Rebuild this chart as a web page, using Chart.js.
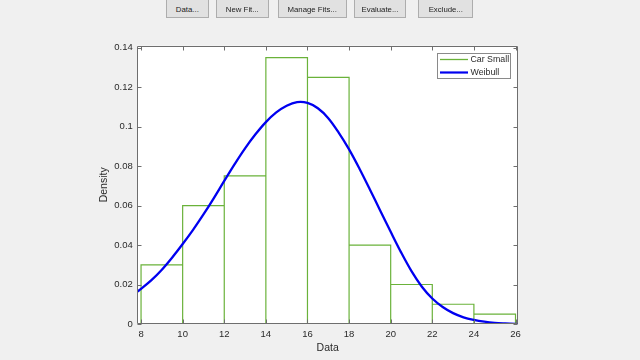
<!DOCTYPE html>
<html>
<head>
<meta charset="utf-8">
<script src="https://cdn.jsdelivr.net/npm/chart.js@4.4.1/dist/chart.umd.min.js"></script>
<style>
  html, body { margin: 0; padding: 0; background: #f0f0f0; }
  #wrap { position: relative; width: 640px; height: 360px; overflow: hidden; background: #f0f0f0; }
  canvas { position: absolute; left: 0; top: 0; }
  .btn {
    position: absolute; top: 0; height: 18px; box-sizing: border-box;
    border: 1px solid #adadad; border-top: none; background: #e1e1e1;
    font-family: "Liberation Sans", Arial, sans-serif; font-size: 7.8px; color: #222;
    text-align: center; line-height: 19px; white-space: nowrap;
  }
</style>
</head>
<body>
<div id="wrap">
  <canvas id="c" width="640" height="360"></canvas>
</div>
<script>
// ---- data ----
const buttonLabels = ["Data...", "New Fit...", "Manage Fits...", "Evaluate...", "Exclude..."];
const binEdges = [8, 10, 12, 14, 16, 18, 20, 22, 24, 26];
const densities = [0.03, 0.06, 0.075, 0.135, 0.125, 0.04, 0.02, 0.01, 0.005];
const weibullX = [7.82, 8, 8.5, 9, 9.5, 10, 10.5, 11, 11.5, 12, 12.5, 13, 13.5, 14, 14.5, 15, 15.5, 16, 16.5, 17, 17.5, 18, 18.5, 19, 19.5, 20, 20.5, 21, 21.5, 22, 22.5, 23, 23.5, 24, 24.5, 25, 25.5, 26, 26.12];
const weibullY = [0.0164, 0.0178, 0.0222, 0.0275, 0.0337, 0.0405, 0.0477, 0.0555, 0.0638, 0.0725, 0.0810, 0.0890, 0.0961, 0.1023, 0.1072, 0.1106, 0.1124, 0.1120, 0.1093, 0.1043, 0.0970, 0.0885, 0.0787, 0.0682, 0.0574, 0.0467, 0.0363, 0.0268, 0.0189, 0.0129, 0.0086, 0.0055, 0.0034, 0.0021, 0.0012, 0.0006, 0.0003, 0.0001, 0.0001];
const xTickValues = [8, 10, 12, 14, 16, 18, 20, 22, 24, 26];
const xTickLabels = ["8", "10", "12", "14", "16", "18", "20", "22", "24", "26"];
const yTickValues = [0, 0.02, 0.04, 0.06, 0.08, 0.1, 0.12, 0.14];
const yTickLabels = ["0", "0.02", "0.04", "0.06", "0.08", "0.1", "0.12", "0.14"];
const seriesNames = ["Car Small", "Weibull"];
const xTitle = "Data";
const yTitle = "Density";

// ---- buttons ----
const btnPos = [[165.7, 43.3], [215.7, 53.3], [277.7, 69], [354, 52], [418.3, 55]];
const wrap = document.getElementById('wrap');
buttonLabels.forEach((t, i) => {
  const d = document.createElement('div');
  d.className = 'btn';
  d.textContent = t;
  d.style.left = btnPos[i][0] + 'px';
  d.style.width = btnPos[i][1] + 'px';
  wrap.appendChild(d);
});

// ---- histogram outline built from bins (no overlapping segments) ----
const histPts = [{x: binEdges[0], y: 0}];
for (let i = 0; i < densities.length; i++) {
  histPts.push({x: binEdges[i], y: densities[i]});
  histPts.push({x: binEdges[i + 1], y: densities[i]});
}
histPts.push({x: binEdges[binEdges.length - 1], y: 0});
for (let i = 1; i < densities.length; i++) {
  histPts.push({x: binEdges[i], y: null});
  histPts.push({x: binEdges[i], y: 0});
  histPts.push({x: binEdges[i], y: Math.min(densities[i - 1], densities[i])});
}
const curvePts = weibullX.map((x, i) => ({x: x, y: weibullY[i]}));

const GREEN = '#6ab23a';
const BLUE = '#0000f0';
const FONT = '"Liberation Sans", Arial, sans-serif';
const TXT = '#2a2a2a';
const seriesColors = [GREEN, BLUE];

const framePlugin = {
  id: 'frame',
  afterDatasetsDraw(chart) {
    const {ctx, chartArea: a, scales: {x, y}} = chart;
    ctx.save();
    ctx.strokeStyle = '#6e6e6e';
    ctx.lineWidth = 1;
    const L = Math.round(a.left) + 0.5, R = Math.round(a.right) - 0.5;
    const T = Math.round(a.top) + 0.5, B = Math.round(a.bottom) - 0.5;
    ctx.beginPath();
    ctx.rect(L, T, R - L, B - T);
    const tl = 4;
    xTickValues.forEach(v => {
      const px = Math.round(x.getPixelForValue(v)) + 0.5;
      ctx.moveTo(px, B); ctx.lineTo(px, B - tl);
      ctx.moveTo(px, T); ctx.lineTo(px, T + tl);
    });
    yTickValues.forEach(v => {
      const py = Math.round(y.getPixelForValue(v)) + 0.5;
      ctx.moveTo(L, py); ctx.lineTo(L + tl, py);
      ctx.moveTo(R, py); ctx.lineTo(R - tl, py);
    });
    ctx.stroke();

    // legend
    const lx = 437.5, ly = 53.5, lw = 73, lh = 25;
    ctx.fillStyle = '#ffffff';
    ctx.fillRect(lx, ly, lw, lh);
    ctx.strokeStyle = '#8a8a8a';
    ctx.strokeRect(lx, ly, lw, lh);
    const rows = [59.5, 72.5];
    chart.data.datasets.forEach((ds, i) => {
      ctx.strokeStyle = seriesColors[i];
      ctx.lineWidth = i === 0 ? 1.3 : 2.2;
      ctx.beginPath();
      ctx.moveTo(440, rows[i]); ctx.lineTo(468, rows[i]);
      ctx.stroke();
      ctx.fillStyle = TXT;
      ctx.font = '8.8px ' + FONT;
      ctx.textBaseline = 'middle';
      ctx.textAlign = 'left';
      ctx.fillText(ds.label, 470.5, rows[i] + 0.5);
    });
    ctx.restore();
  }
};

new Chart(document.getElementById('c'), {
  type: 'scatter',
  data: {
    datasets: [
      {label: seriesNames[0], data: histPts, showLine: true, spanGaps: false, borderColor: GREEN, borderWidth: 1.2,
       pointRadius: 0, tension: 0, order: 2},
      {label: seriesNames[1], data: curvePts, showLine: true, borderColor: BLUE, borderWidth: 2.3,
       pointRadius: 0, tension: 0.35, order: 1}
    ]
  },
  options: {
    responsive: false,
    animation: false,
    devicePixelRatio: 1,
    events: [],
    layout: {padding: {left: 0, top: 45.7, right: 122, bottom: 0}},
    plugins: {legend: {display: false}, tooltip: {enabled: false}},
    scales: {
      x: {
        type: 'linear', min: 7.82, max: 26.12,
        afterBuildTicks: s => { s.ticks = xTickValues.map(v => ({value: v})); },
        afterFit: s => { s.height = 36; },
        grid: {display: false, drawTicks: false},
        border: {display: false},
        ticks: {padding: 5, color: TXT, font: {family: FONT, size: 9.5},
                callback: (v, i) => xTickLabels[i], maxRotation: 0, autoSkip: false},
        title: {display: true, text: xTitle, color: TXT, font: {family: FONT, size: 10.5},
                padding: {top: 0, bottom: 5.7}}
      },
      y: {
        type: 'linear', min: 0, max: 0.141,
        afterBuildTicks: s => { s.ticks = yTickValues.map(v => ({value: v})); },
        afterFit: s => { s.width = 137.3; },
        grid: {display: false, drawTicks: false},
        border: {display: false},
        ticks: {padding: 4.5, color: TXT, font: {family: FONT, size: 9.5},
                callback: (v, i) => yTickLabels[i], autoSkip: false},
        title: {display: true, text: yTitle, color: TXT, font: {family: FONT, size: 10.5},
                padding: {top: 98.2, bottom: 0}}
      }
    }
  },
  plugins: [{
    id: 'bg',
    beforeDraw(chart) {
      const {ctx, chartArea: a} = chart;
      ctx.save();
      ctx.fillStyle = '#f0f0f0';
      ctx.fillRect(0, 0, chart.width, chart.height);
      ctx.fillStyle = '#ffffff';
      ctx.fillRect(a.left, a.top, a.right - a.left, a.bottom - a.top);
      ctx.restore();
    }
  }, framePlugin]
});
</script>
</body>
</html>
